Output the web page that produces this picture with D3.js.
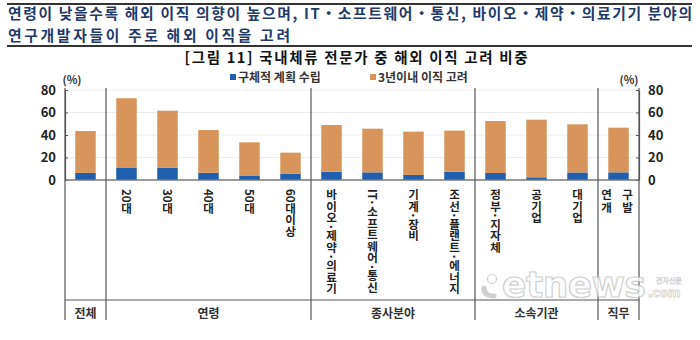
<!DOCTYPE html>
<html><head><meta charset="utf-8">
<script src="https://cdn.jsdelivr.net/npm/d3@7"></script>
<style>
html,body{margin:0;padding:0;background:#fff;}
svg{display:block;font-family:"Noto Sans CJK KR","Noto Sans",sans-serif;}
</style></head>
<body>
<svg id="c" width="700" height="340"></svg>
<script>
const titleLines = ["연령이 낮을수록 해외 이직 의향이 높으며, IT・소프트웨어・통신, 바이오・제약・의료기기 분야의", "연구개발자들이 주로 해외 이직을 고려"];
const subtitle = "[그림 11] 국내체류 전문가 중 해외 이직 고려 비중";
const seriesNames = ["구체적 계획 수립", "3년이내 이직 고려"];
const categories = ["전체","20대","30대","40대","50대","60대이상","바이오·제약·의료기","IT·소프트웨어·통신","기계·장비","조선·플랜트·에너지","정부·지자체","공기업","대기업","연구개발"];
const planned  = [6.3, 10.7, 10.8, 6.4, 3.6, 5.7, 7.3, 6.8, 4.5, 7.3, 6.2, 2.4, 6.7, 6.8];
const consider = [37.2, 62.0, 50.8, 38.0, 29.9, 18.6, 41.6, 38.8, 38.5, 36.6, 46.2, 51.2, 42.8, 39.7];
const groupNames = ["전체","연령","종사분야","소속기관","직무"];
const groupSizes = [1, 5, 4, 3, 1];
const yTicks = [0, 20, 40, 60, 80];
const colors = ["#1f5fad", "#d8955b"];

const svg = d3.select("#c");
const font = "'Noto Sans CJK KR','Noto Sans',sans-serif";

// Title block
svg.append("line").attr("x1",7).attr("x2",692).attr("y1",4).attr("y2",4).attr("stroke","#333").attr("stroke-width",2);
svg.append("line").attr("x1",7).attr("x2",692).attr("y1",46).attr("y2",46).attr("stroke","#333").attr("stroke-width",2);
const tl = [684, 282];
titleLines.forEach((t,i)=>{
  svg.append("text").attr("x",8).attr("y",19+i*21.5).text(t)
    .attr("font-size",14.8).attr("font-weight","bold").attr("fill","#1f3a6a")
    .attr("textLength",tl[i]).attr("lengthAdjust","spacing");
});
svg.append("text").attr("x",356).attr("y",63).attr("text-anchor","middle").text(subtitle)
  .attr("font-size",14.5).attr("font-weight","bold").attr("fill","#111")
  .attr("textLength",343).attr("lengthAdjust","spacing");

// Legend
const legX = [230, 370];
seriesNames.forEach((s,i)=>{
  svg.append("rect").attr("x",legX[i]).attr("y",74).attr("width",6).attr("height",6).attr("fill",colors[i]);
  svg.append("text").attr("x",legX[i]+8).attr("y",82).text(s).attr("font-size",12).attr("font-weight","bold").attr("fill","#333");
});

// Scales
const x = d3.scaleBand().domain(categories).range([65,639]).paddingInner(0.5).paddingOuter(0.25);
const y = d3.scaleLinear().domain([0,80]).range([180,90]);

// gridlines
svg.append("g").selectAll("line").data(yTicks.filter(d=>d>0)).join("line")
  .attr("x1",65).attr("x2",639).attr("y1",d=>y(d)).attr("y2",d=>y(d))
  .attr("stroke","#ececec").attr("stroke-width",1);

// stacked bars
const table = categories.map((c,i)=>({cat:c, a:planned[i], b:consider[i]}));
const stack = d3.stack().keys(["a","b"])(table);
svg.append("g").selectAll("g").data(stack).join("g").attr("fill",(d,i)=>colors[i])
  .selectAll("rect").data(d=>d).join("rect")
  .attr("x",d=>x(d.data.cat)).attr("width",x.bandwidth())
  .attr("y",d=>y(d[1])).attr("height",d=>y(d[0])-y(d[1]));

// axes
const axL = svg.append("g").attr("transform","translate(65,0)")
  .call(d3.axisLeft(y).tickValues(yTicks).tickSizeInner(-3).tickSizeOuter(0).tickPadding(9));
const axR = svg.append("g").attr("transform","translate(639,0)")
  .call(d3.axisRight(y).tickValues(yTicks).tickSizeInner(-3).tickSizeOuter(0).tickPadding(9));
[axL,axR].forEach(a=>{
  a.select(".domain").attr("stroke","#555").attr("stroke-width",1.2);
  a.selectAll(".tick line").attr("stroke","#555");
  a.selectAll(".tick text").attr("font-family",font).attr("font-size",13).attr("font-weight","bold").attr("fill","#222");
});
svg.append("text").attr("x",72).attr("y",84).attr("text-anchor","middle").text("(%)").attr("font-size",11).attr("font-weight","bold").attr("fill","#333");
svg.append("text").attr("x",629).attr("y",84).attr("text-anchor","middle").text("(%)").attr("font-size",11).attr("font-weight","bold").attr("fill","#333");

// baseline
svg.append("line").attr("x1",65).attr("x2",639).attr("y1",y(0)).attr("y2",y(0)).attr("stroke","#777").attr("stroke-width",1.5);

// group separators
const step = x.step(), gap = step - x.bandwidth();
let idx = 0; const bounds = [x(categories[0]) - gap/2];
groupSizes.forEach(n=>{ idx += n; bounds.push(idx < categories.length ? x(categories[idx]) - gap/2 : x(categories[idx-1]) + x.bandwidth() + gap/2); });
svg.append("g").selectAll("line").data(bounds).join("line")
  .attr("x1",d=>d).attr("x2",d=>d).attr("y1",y(80)-2).attr("y2",320)
  .attr("stroke","#555").attr("stroke-width",1.2);
svg.append("line").attr("x1",bounds[0]).attr("x2",bounds[bounds.length-1]).attr("y1",300).attr("y2",300).attr("stroke","#555").attr("stroke-width",1.2);

// category labels
const lab = svg.append("g");
categories.forEach((c,i)=>{
  if (i === 0) return;
  const cx = x(c) + x.bandwidth()/2;
  if (c === "연구개발") {
    // wrapped "연구 / 개발" drawn as two vertical columns
    const ch = Array.from(c);
    [[ch[0]+ch[2], -12], [ch[1]+ch[3], 9]].forEach(([s,dx])=>{
      lab.append("text").attr("x",cx+dx).attr("y",189).text(s)
        .style("writing-mode","vertical-rl").attr("text-anchor","start").attr("letter-spacing",1)
        .attr("font-size",11.5).attr("font-weight","bold").attr("fill","#222");
    });
  } else {
    lab.append("text").attr("x",cx).attr("y",189).text(c)
      .style("writing-mode","vertical-rl").attr("text-anchor","start")
      .attr("font-size",11.5).attr("font-weight","bold").attr("fill","#222");
  }
});

// watermark
const wm = svg.append("g").attr("opacity",0.8);
wm.append("text").attr("x",502).attr("y",297).text("etnews").attr("font-family","'DejaVu Sans',sans-serif")
  .attr("font-size",36).attr("font-weight","bold").attr("fill","#fff").attr("stroke","#c4c4c4").attr("stroke-width",1.2).attr("letter-spacing",-0.5);
wm.append("text").attr("x",648).attr("y",297).text(".com").attr("font-family","'DejaVu Sans',sans-serif")
  .attr("font-size",12).attr("font-weight","bold").attr("fill","#fff").attr("stroke","#c4c4c4").attr("stroke-width",0.8);
wm.append("text").attr("x",656).attr("y",283).text("전자신문").attr("font-size",7).attr("fill","#fff").attr("stroke","#c4c4c4").attr("stroke-width",0.5);
wm.append("circle").attr("cx",492).attr("cy",279).attr("r",4.5).attr("fill","#fff").attr("stroke","#c4c4c4").attr("stroke-width",1.2);
wm.append("path").attr("d","M484,288 q0,8 10,8").attr("fill","none").attr("stroke","#c4c4c4").attr("stroke-width",5).attr("stroke-linecap","round");

// group labels
groupNames.forEach((g,i)=>{
  svg.append("text").attr("x",(bounds[i]+bounds[i+1])/2).attr("y",318).attr("text-anchor","middle")
    .text(g).attr("font-size",12).attr("font-weight","bold").attr("fill","#333");
});
</script>
</body></html>
